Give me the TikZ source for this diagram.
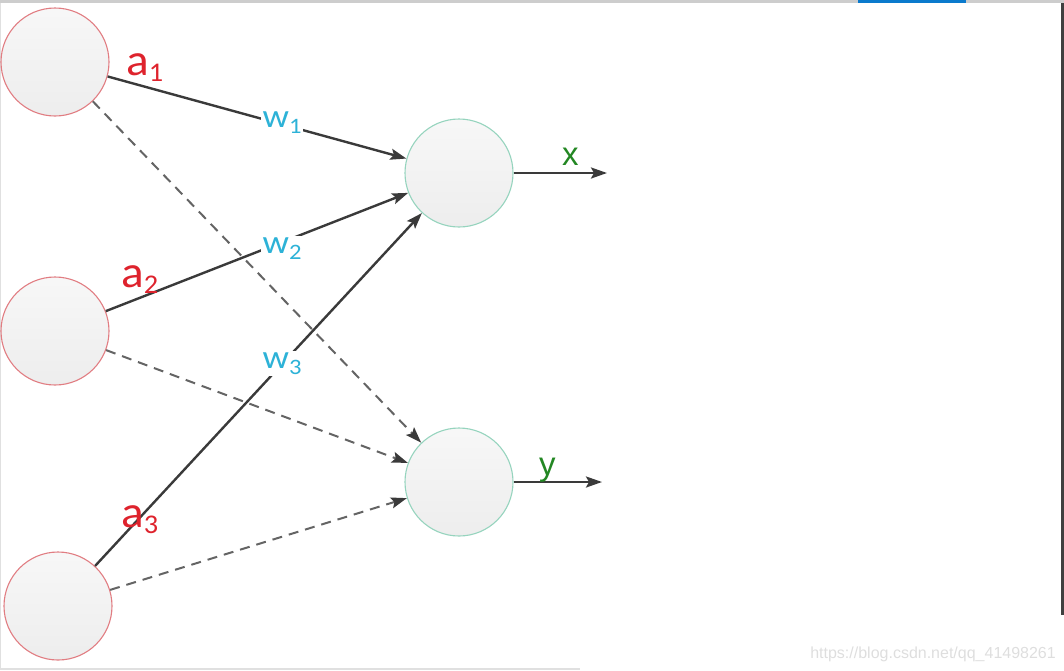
\documentclass[tikz,border=0pt]{standalone}
\usepackage{fontspec}
\setmainfont{Carlito}
\newfontfamily\arialf{Liberation Sans}
\usetikzlibrary{arrows.meta}
\definecolor{inred}{RGB}{225,125,130}
\definecolor{outgreen}{RGB}{150,212,190}
\definecolor{labred}{RGB}{222,35,45}
\definecolor{labcyan}{RGB}{45,178,215}
\definecolor{labgreen}{RGB}{35,135,35}
\definecolor{edgec}{RGB}{58,58,58}
\definecolor{dashc}{RGB}{100,100,100}
\definecolor{framegray}{RGB}{205,205,205}
\definecolor{frameblue}{RGB}{10,122,205}
\newcommand{\wlab}[2]{\scalebox{1.12}[1]{#1\fontsize{22}{22}\selectfont\raisebox{-6pt}{#2}}}
\newcommand{\alab}[2]{\scalebox{1.05}[1]{#1\fontsize{27}{27}\selectfont\raisebox{-6pt}{#2}}}
\begin{document}
\begin{tikzpicture}[x=1pt,y=-1pt,
  neuron/.style={circle, minimum size=108pt, inner sep=0pt, line width=1.1pt, top color=black!3, bottom color=black!7},
  inneuron/.style={neuron, draw=inred},
  outneuron/.style={neuron, draw=outgreen},
  conn/.style={draw=edgec, line width=2.4pt, -{Stealth[length=16pt,width=11pt,inset=3pt,color=edgec]}},
  dconn/.style={conn, draw=dashc, line width=2pt, dash pattern=on 10pt off 7pt},
  outconn/.style={conn},
  alabel/.style={text=labred, font=\fontsize{45}{45}\selectfont, anchor=base west, inner sep=0pt},
  wlabel/.style={text=labcyan, font=\fontsize{33}{33}\selectfont, anchor=base west, inner sep=1.5pt, fill=white},
  olabel/.style={text=labgreen, font=\arialf\fontsize{33}{33}\selectfont, anchor=base west, inner sep=0pt},
  wmark/.style={text=black!13, font=\arialf\fontsize{16}{16}\selectfont, anchor=base east, inner sep=0pt}
]
\useasboundingbox (0,0) rectangle (1064,670);
% frame
\fill[framegray] (0,0) rectangle (1064,3);
\fill[frameblue] (858,0) rectangle (966,3);
\fill[black!75] (1061,3) rectangle (1064,615);
\fill[black!12] (0,3) rectangle (1,670);
\fill[black!12] (0,668) rectangle (580,670);

% neurons
\node[inneuron] (a1) at (55,62) {};
\node[inneuron] (a2) at (55,331) {};
\node[inneuron] (a3) at (58,606) {};
\node[outneuron] (x) at (459,173) {};
\node[outneuron] (y) at (459,482) {};
\coordinate (xo) at (607,173);
\coordinate (yo) at (602,482);

% connections
\draw[conn] (a1) -- (x);
\draw[conn] (a2) -- (x);
\draw[conn] (a3) -- (x);
\draw[dconn] (a1) -- (y);
\draw[dconn] (a2) -- (y);
\draw[dconn] (a3) -- (y);
\draw[outconn] (x) -- (xo);
\draw[outconn] (y) -- (yo);

% labels
\node[wlabel] (w1) at (261,127) {\wlab{w}{1}};
\node[wlabel] (w2) at (261,253) {\wlab{w}{2}};
\node[wlabel] (w3) at (261,368) {\wlab{w}{3}};
\node[alabel] (la1) at (126,75) {\alab{a}{1}};
\node[alabel] (la2) at (121,287) {\alab{a}{2}};
\node[alabel] (la3) at (121,527) {\alab{a}{3}};
\node[olabel] (lx) at (562,165) {x};
\node[olabel] (ly) at (539,475) {y};
\node[wmark] (wm) at (1056,658) {https://blog.csdn.net/qq\_41498261};
\end{tikzpicture}
\end{document}
